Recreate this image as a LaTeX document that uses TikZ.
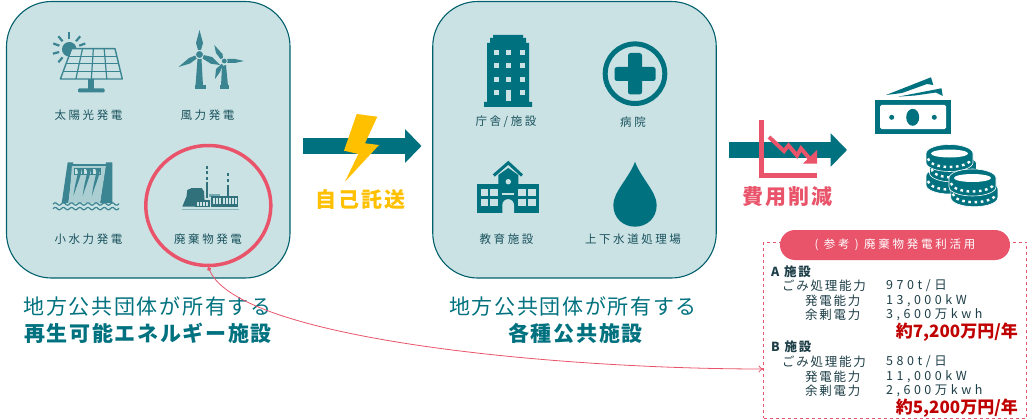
\documentclass[tikz,border=0pt]{standalone}
\usepackage{fontspec}
\usetikzlibrary{shapes.geometric,arrows.meta,calc}
\setmainfont{Noto Sans CJK JP}
\newfontfamily\lblf[LetterSpace=22]{Noto Sans CJK JP}
\newfontfamily\boxf[LetterSpace=14]{Noto Sans CJK JP}
\newfontfamily\valf[LetterSpace=28]{Noto Sans CJK JP}
\newfontfamily\pilf[LetterSpace=24]{Noto Sans CJK JP}
\newfontfamily\capf[LetterSpace=8]{Noto Sans CJK JP}
\newfontfamily\bigf[LetterSpace=11]{Noto Sans CJK JP}
\definecolor{teal1}{HTML}{00727F}
\definecolor{iconc}{HTML}{3A8591}
\definecolor{panelc}{HTML}{CBE2E4}
\definecolor{edgec}{HTML}{00606C}
\definecolor{pinkc}{HTML}{E9546B}
\definecolor{yelc}{HTML}{FFC000}
\definecolor{redc}{HTML}{C00000}
\definecolor{lblc}{HTML}{17515C}
\definecolor{txtc}{HTML}{1E3F48}
\tikzset{
 panel/.style={draw=edgec,fill=panelc,line width=1.1pt,rounded corners=45pt,minimum width=283.5pt,minimum height=276.5pt,inner sep=0pt},
 lbl/.style={text=lblc,font=\lblf\fontsize{11.5}{13}\selectfont,inner sep=0pt},
 capl/.style={text=teal1,font=\capf\fontsize{21}{24}\selectfont,inner sep=0pt},
 capb/.style={text=teal1,font=\capf\bfseries\fontsize{21}{24}\selectfont,inner sep=0pt},
 bigl/.style={font=\bigf\bfseries\fontsize{21}{24}\selectfont,inner sep=0pt},
 blockarrow/.style={draw=teal1,line width=16pt,-{Triangle[length=16.5pt,width=33pt]}},
 ln/.style={anchor=west,text=txtc,font=\boxf\fontsize{12.5}{14}\selectfont,inner sep=0pt},
 vl/.style={anchor=west,text=txtc,font=\valf\fontsize{12.5}{14}\selectfont,inner sep=0pt},
 hd/.style={anchor=west,text=txtc,font=\boxf\bfseries\fontsize{12.5}{14}\selectfont,inner sep=0pt},
 pr/.style={anchor=east,text=redc,font=\bfseries\fontsize{17}{20}\selectfont,inner sep=0pt},
}
\newcommand\coinbody[2]{%
 \fill[teal1,draw=white,line width=.6pt] ({#1-23.5},{#2}) -- ({#1-23.5},{#2+9}) arc[start angle=180,end angle=360,x radius=23.5pt,y radius=9pt] -- ({#1+23.5},{#2}) arc[start angle=0,end angle=180,x radius=23.5pt,y radius=9pt] -- cycle;
 \draw[white,line width=2.4pt,dash pattern=on 2.6pt off 3.6pt] ({#1-21.5},{#2+5}) arc[start angle=180,end angle=360,x radius=21.5pt,y radius=8.5pt];
}
\newcommand\cointop[2]{\fill[white] (#1,#2) ellipse[x radius=18.5pt,y radius=4pt];}
\begin{document}
\begin{tikzpicture}[x=1pt,y=-1pt]
\useasboundingbox (0,0) rectangle (1029,420);
\fill[white] (0,0) rectangle (1029,420);
% panels
\node[panel] (p1) at (148.25,139.75) {};
\node[panel] (p2) at (574.5,139.75) {};
% solar
\foreach \a in {90,50,20,130,160,195,230}
  \draw[iconc,line width=2.2pt] ($(69.3,49.3)+(\a:10.5pt)$) -- ($(69.3,49.3)+(\a:17pt)$);
\fill[iconc] (69.3,49.3) circle[radius=7.3pt];
\filldraw[draw=iconc,fill=panelc,line width=1.4pt,line join=round] (71.7,48.6) -- (115,48.6) -- (122.3,79) -- (60.4,79) -- cycle;
\foreach \t in {.25,.5,.75}{
  \pgfmathsetmacro\xa{71.7+\t*43.3}\pgfmathsetmacro\xb{60.4+\t*61.9}
  \draw[iconc,line width=1.2pt] (\xa,48.6) -- (\xb,79);
  \pgfmathsetmacro\ya{48.6+\t*30.4}\pgfmathsetmacro\xl{71.7-\t*11.3}\pgfmathsetmacro\xr{115+\t*7.3}
  \draw[iconc,line width=1.2pt] (\xl,\ya) -- (\xr,\ya);
}
\fill[iconc] (88,79) rectangle (94,89);
\fill[iconc,rounded corners=1pt] (78,88.5) rectangle (104.5,92.5);
% wind
\fill[iconc] (197.5,59) -- (201.5,59) -- (203,86) -- (195.5,86) -- cycle;
\fill[iconc] (194.5,85) rectangle (205.5,89.5);
\fill[iconc] (199.5,30) -- (203,43) -- (201,50) -- (198,50) -- (196,43) -- cycle;
\fill[iconc] (178.5,67) -- (189,58) -- (195.3,55.5) -- (196.8,58.5) -- (190,63.5) -- cycle;
\fill[iconc] (203.5,55) -- (212,57) -- (220,65) -- (211,63.8) -- (202.5,58.5) -- cycle;
\filldraw[draw=panelc,fill=iconc,line width=.8pt] (199.5,54.5) circle[radius=4pt];
\fill[iconc] (222,66) -- (226,65) -- (228,86) -- (221,86) -- cycle;
\fill[iconc] (220,85.5) rectangle (229,89.5);
\fill[iconc] (214.3,45) -- (222.5,54) -- (223,58) -- (220.5,59) -- (216,53) -- cycle;
\fill[iconc] (227,59) -- (235,59) -- (244,61) -- (235,63) -- (227,63) -- cycle;
\fill[iconc] (221.5,64) -- (223,65) -- (220,72) -- (215,79) -- (216,69) -- cycle;
\filldraw[draw=panelc,fill=iconc,line width=.8pt] (224.3,61) circle[radius=3pt];
% hydro
\fill[iconc] (67.7,162.3) -- (73.3,162.3) -- (68.3,203) -- (61.7,203) -- cycle;
\fill[iconc] (106,162.3) -- (112.3,162.3) -- (112.3,203) -- (100,203) -- cycle;
\fill[iconc!22!panelc] (72,165) -- (106,165) -- (100,203) -- (69,203) -- cycle;
\fill[iconc] (72,164) rectangle (106,165.6);
\foreach \x in {74.5,83.7,92.9}{
  \filldraw[draw=iconc,fill=panelc,line width=1pt] (\x,168) rectangle ++(7.5,6);
  \fill[iconc] (\x+2,168) -- (\x+7.5,168) -- (\x+6.8,172) .. controls (\x+5,180) and (\x+2,186) .. (\x-1,196) .. controls (\x,186) and (\x+2.5,178) .. (\x+3.5,172) -- cycle;
}
\foreach \y in {204,208.6}
  \draw[iconc,line width=1.2pt] plot[domain=53:119,samples=70,smooth] (\x,{\y+1.2*sin(\x*44)});
% waste plant
\fill[iconc!85!black] (182.3,206.7) -- (186.5,196.5) -- (187.3,190) -- (191.7,188) -- (201.7,188) -- (204,191.5) -- (205,206.7) -- cycle;
\foreach \yy in {165.7,171,176.5}
  \fill[iconc!85!black] (205.8,\yy) rectangle (208.4,\yy+3.3);
\fill[iconc!85!black] (205.8,182) rectangle (208.4,198);
\foreach \yy in {173,179}
  \fill[iconc!85!black] (226.8,\yy) rectangle (229.4,\yy+3.3);
\fill[iconc!85!black] (226.8,185) rectangle (229.4,197);
\fill[iconc!70] (209,193.5) rectangle (220,197);
\fill[iconc!85!black] (211,196) rectangle (238.3,206.7);
\fill[iconc!85!black] (195,200) rectangle (210,206.7);
\foreach \xx in {197,200,203,206}
  \fill[panelc] (\xx,202) rectangle ++(2,3.6);
\foreach \xx in {213,216.2,219.4,222.6,225.8,229,232.2,235.2}
  \fill[panelc] (\xx,198) rectangle ++(2,5.5);
\draw[iconc!60,line width=.7pt] (182,209.3) -- (238.5,209.3);
% public icons
\fill[teal1] (493,35) -- (523,35) -- (523,38) -- (526,38) -- (526,43) -- (529,43) -- (529,102) -- (532,102) -- (532,107) -- (484,107) -- (484,102) -- (487,102) -- (487,43) -- (490,43) -- (490,38) -- (493,38) -- cycle;
\foreach \yy in {50,63.5,77,90.5}{
  \fill[panelc] (493.8,\yy) rectangle ++(5,5);
  \fill[panelc] (519.8,\yy) rectangle ++(5,5);
}
\foreach \yy in {50,63.5,77}
  \fill[panelc] (505.8,\yy) rectangle ++(5,5);
\fill[panelc] (505.8,90.5) rectangle (511,101);
\draw[teal1,line width=5pt] (635,73.7) circle[radius=29.8pt];
\fill[teal1,rounded corners=2.5pt] (628,53) rectangle (642,94.5);
\fill[teal1,rounded corners=2.5pt] (614.5,67) rectangle (655.7,81);
% school
\fill[teal1] (477.3,184) rectangle (539,213.3);
\fill[teal1] (498.3,184) -- (498.3,175) -- (508.3,168) -- (518.3,175) -- (518.3,184) -- cycle;
\draw[teal1,line width=3pt] (493.8,175.5) -- (508.3,162.8) -- (522,175.5);
\foreach \xx in {480.7,490,518.3,527.9}
  \foreach \yy in {189,199}
    \fill[panelc] (\xx,\yy) rectangle ++(7.7,7.3);
\fill[panelc] (508.3,181.7) circle[radius=2.7pt];
\fill[panelc] (502.3,192.7) rectangle (514,194.7);
\fill[panelc] (502.3,213.3) -- (502.3,205) arc[start angle=180,end angle=0,radius=5.85pt] -- (514,213.3) -- cycle;
% drop
\fill[teal1] (635,161.7) .. controls (629,178) and (613.3,192) .. (613.3,205) .. controls (613.3,218) and (623,226.7) .. (635,226.7) .. controls (647,226.7) and (656.7,218) .. (656.7,205) .. controls (656.7,192) and (641,178) .. (635,161.7) -- cycle;
% labels
\node[lbl] (l1) at (88.5,115) {太陽光発電};
\node[lbl] (l2) at (207.5,115) {風力発電};
\node[lbl] (l3) at (88.5,239) {小水力発電};
\node[lbl] (l4) at (208,239) {廃棄物発電};
\node[lbl] (l5) at (506,122) {庁舎/施設};
\node[lbl] (l6) at (633,122) {病院};
\node[lbl] (l7) at (506.5,239) {教育施設};
\node[lbl] (l8) at (633,239) {上下水道処理場};
% captions
\node[capl] (c1) at (147.5,307) {地方公共団体が所有する};
\node[capb] (c2) at (148,333) {再生可能エネルギー施設};
\node[capl] (c3) at (573,307) {地方公共団体が所有する};
\node[capb] (c4) at (575.5,333) {各種公共施設};
% arrow 1
\coordinate (a1s) at (303,146);
\coordinate (a1e) at (421.5,146);
\draw[blockarrow] (a1s) -- (a1e);
\fill[yelc] (356.7,114) -- (377.3,116.7) -- (365,143.3) -- (379,145) -- (345,181.7) -- (358.3,154) -- (344,150.7) -- cycle;
\node[bigl,text=yelc] (t1) at (360.5,199) {自己託送};
% arrow 2
\coordinate (a2s) at (729,150);
\coordinate (a2e) at (847,150);
\draw[blockarrow] (a2s) -- (a2e);
\draw[pinkc,line width=5pt] (761.5,120) -- (761.5,175.5) -- (817,175.5);
\draw[pinkc,line width=4pt] (769,137) -- (784,151) -- (788.5,145.5) -- (797,155.5) -- (801,148.5) -- (810,159);
\fill[pinkc] (817,163.5) -- (817,150) -- (803,163.5) -- cycle;
\node[bigl,text=pinkc] (t2) at (787.5,196.5) {費用削減};
% money
\fill[teal1] (886,95) -- (931,77.3) -- (933.3,85) -- (927,84) -- (902,93) -- cycle;
\fill[teal1] (898,96.7) -- (941.5,88.3) -- (942.7,96) -- (936,92.5) -- (915,95.5) -- cycle;
\fill[teal1] (875,100) rectangle (950.7,134.3);
\fill[white,rounded corners=1.5pt] (880,105) rectangle (946,129);
\fill[teal1] (912.7,117.3) ellipse[x radius=6.5pt,y radius=8.5pt];
\fill[teal1] (891.7,117.3) circle[radius=2.5pt];
\fill[teal1] (934.3,117.3) circle[radius=2.5pt];
% coins
\coinbody{949.5}{176}
\coinbody{953}{164}
\coinbody{949.5}{153.5}
\cointop{949.5}{153.5}
\coinbody{974.3}{188.7}
\coinbody{972.5}{178}
\cointop{972.5}{178}
% circle
\node[draw=pinkc,line width=3.5pt,ellipse,minimum width=125pt,minimum height=120pt,inner sep=0pt] (ring) at (208.3,205.5) {};
% reference box
\node[draw=pinkc,dashed,line width=.8pt,fill=white,minimum width=263pt,minimum height=176pt,inner sep=0pt] (refbox) at (895,330) {};
\node[fill=pinkc,rounded corners=15pt,minimum width=230pt,minimum height=30pt,inner sep=0pt,text=white,font=\pilf\fontsize{11.5}{13}\selectfont] (pill) at (895,245) {( 参考 ) 廃棄物発電利活用\hspace{5pt}};
\node[hd] (h1) at (771,271.7) {A 施設};
\node[ln] (a1) at (782,286) {ごみ処理能力};
\node[vl] (a2) at (886,286) {970t/日};
\node[ln] (a3) at (805,301) {発電能力};
\node[vl] (a4) at (886,301) {13,000kW};
\node[ln] (a5) at (805,315) {余剰電力};
\node[vl] (a6) at (886,315) {3,600万kwh};
\node[pr] (a7) at (1018,331.7) {約7,200万円/年};
\node[hd] (h2) at (771,347) {B 施設};
\node[ln] (b1) at (782,361.7) {ごみ処理能力};
\node[vl] (b2) at (886,361.7) {580t/日};
\node[ln] (b3) at (805,376.7) {発電能力};
\node[vl] (b4) at (886,376.7) {11,000kW};
\node[ln] (b5) at (805,390.7) {余剰電力};
\node[vl] (b6) at (886,390.7) {2,600万kwh};
\node[pr] (b7) at (1018,408) {約5,200万円/年};
\coordinate (refin) at (763.5,369);
\draw[pinkc,line width=.8pt,{Circle[length=4pt]}-{To[length=5pt,width=7pt]}] (ring.south) .. controls (240,340) and (560,369) .. (refin);
\end{tikzpicture}
\end{document}
